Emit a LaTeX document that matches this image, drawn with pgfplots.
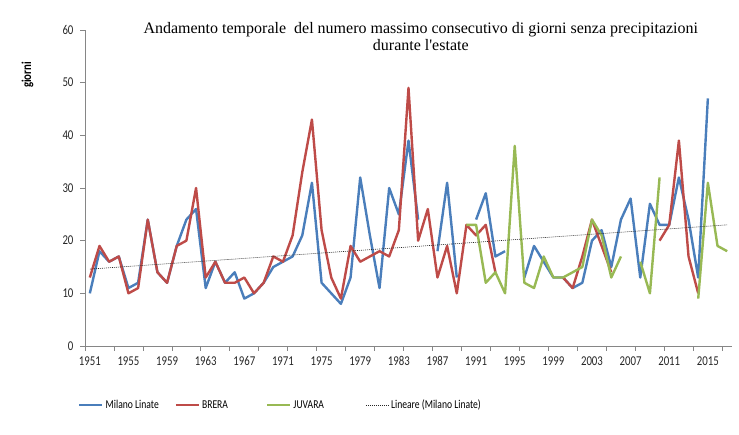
\documentclass[border=0pt]{standalone}
\usepackage{fontspec}
\setmainfont{Carlito}[FakeStretch=0.8]
\newfontfamily\titlefont{Liberation Serif}
\usepackage{pgfplots}
\pgfplotsset{compat=1.18}
\usepackage{pgfplotstable}
\definecolor{cblue}{HTML}{4A7EBB}
\definecolor{cred}{HTML}{BE4B48}
\definecolor{cgreen}{HTML}{98B954}
\definecolor{axgray}{HTML}{868686}

\pgfplotstableread{
year linate brera juvara
1951 10 13 nan
1952 18 19 nan
1953 16 16 nan
1954 17 17 nan
1955 11 10 nan
1956 12 11 nan
1957 24 24 nan
1958 14 14 nan
1959 12 12 nan
1960 19 19 nan
1961 24 20 nan
1962 26 30 nan
1963 11 13 nan
1964 16 16 nan
1965 12 12 nan
1966 14 12 nan
1967 9 13 nan
1968 10 10 nan
1969 12 12 nan
1970 15 17 nan
1971 16 16 nan
1972 17 21 nan
1973 21 33 nan
1974 31 43 nan
1975 12 22 nan
1976 10 13 nan
1977 8 9 nan
1978 13 19 nan
1979 32 16 nan
1980 21 17 nan
1981 11 18 nan
1982 30 17 nan
1983 25 22 nan
1984 39 49 nan
1985 24 20 nan
1986 nan 26 nan
1987 18 13 nan
1988 31 19 nan
1989 13 10 nan
1990 nan 23 23
1991 24 21 23
1992 29 23 12
1993 17 14 14
1994 18 nan 10
1995 nan nan 38
1996 13 nan 12
1997 19 nan 11
1998 16 nan 17
1999 13 nan 13
2000 13 13 13
2001 11 11 14
2002 12 17 15
2003 20 24 24
2004 22 19 21
2005 15 14 13
2006 24 nan 17
2007 28 nan nan
2008 13 nan 16
2009 27 nan 10
2010 23 20 32
2011 23 23 nan
2012 32 39 nan
2013 24 17 nan
2014 13 10 9
2015 47 nan 31
2016 nan nan 19
2017 nan nan 18
}\data

\pgfplotstableread{
year trend
1951 14.6
2017 23.0
}\trend

\begin{document}
\begin{tikzpicture}
\useasboundingbox (0,0) rectangle (739pt,435pt);
\begin{axis}[
  at={(85pt,89pt)}, anchor=south west,
  scale only axis, width=647pt, height=316pt,
  xmin=1950.5, xmax=2017.5, ymin=0, ymax=60,
  axis x line*=bottom, axis y line*=left,
  axis line style={draw=axgray, line width=0.8pt},
  tick align=outside,
  xtick={1951,1955,1959,1963,1967,1971,1975,1979,1983,1987,1991,1995,1999,2003,2007,2011,2015},
  xticklabels={1951,1955,1959,1963,1967,1971,1975,1979,1983,1987,1991,1995,1999,2003,2007,2011,2015},
  minor xtick={1950.5,1953.5,...,2017},
  major x tick style={draw=none},
  minor x tick style={draw=axgray, line width=0.8pt},
  minor tick length=5pt,
  major tick length=5pt,
  ytick={0,10,...,60},
  y tick style={draw=axgray, line width=0.8pt},
  /pgf/number format/assume math mode=true,
  ticklabel style={font=\fontsize{13.5}{15}\selectfont, text=black!85},
  xticklabel style={yshift=-2pt},
  yticklabel style={xshift=-3pt},
  ylabel={giorni},
  ylabel style={at={(axis description cs:-0.089,0.858)}, anchor=center, font=\bfseries\fontsize{13.5}{15}\selectfont},
  title={Andamento temporale\ \ del numero massimo consecutivo di giorni senza precipitazioni\\durante l'estate},
  title style={at={(axis description cs:0.519,1.007)}, anchor=north, align=center, inner sep=0pt, font=\titlefont\fontsize{16}{17}\selectfont},
  unbounded coords=jump,
  legend columns=4,
  legend cell align=left,
  legend style={at={(axis description cs:-0.0107,-0.187)}, anchor=west, draw=none, fill=none, inner sep=0pt,
    font=\fontsize{12}{14}\selectfont,
    /tikz/every even column/.append style={column sep=0pt}},
  legend image code/.code={\draw[#1] (0pt,0pt) -- (23pt,0pt);},
  every axis plot/.append style={line join=round},
  clip=false,
]
\addplot[cblue, line width=2.4pt] table[x=year, y=linate]{\data};
\addlegendentry{\makebox[67pt][l]{Milano Linate}}
\addplot[cred, line width=2.4pt] table[x=year, y=brera]{\data};
\addlegendentry{\makebox[62pt][l]{BRERA}}
\addplot[cgreen, line width=2.4pt] table[x=year, y=juvara]{\data};
\addlegendentry{\makebox[70pt][l]{JUVARA}}
\addplot[black!85, line width=0.6pt, dash pattern=on 1pt off 1pt] table[x=year, y=trend]{\trend};
\addlegendentry{Lineare (Milano Linate)}
\end{axis}
\end{tikzpicture}
\end{document}
